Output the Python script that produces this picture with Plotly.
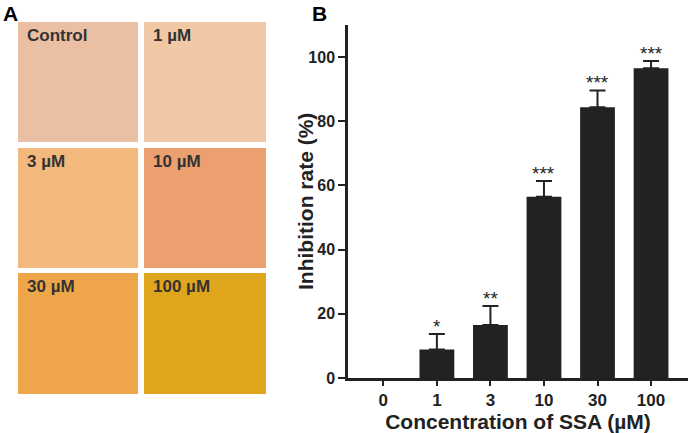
import plotly.graph_objects as go

# panel B data
conc = ['0', '1', '3', '10', '30', '100']
inhibition = [0, 8.9, 16.5, 56.5, 84.4, 96.5]
sem = [0, 4.8, 5.9, 4.9, 5.2, 2.3]
stars = ['', '*', '**', '***', '***', '***']

# panel A labels / tints of the CAM photos
photo_labels = ['Control', '1 µM', '3 µM', '10 µM', '30 µM', '100 µM']
photo_colors = ['#ebbfa3', '#f0c8a6', '#f2b87c', '#eca070', '#efa64a', '#dfa51c']

W, H = 692, 433
FONT = 'Liberation Sans, Arial, sans-serif'
INK = '#222222'

# the zero bar has nothing to draw (no bar, no error cap)
bar_y = [v if v > 0 else None for v in inhibition]
err = [e if e > 0 else None for e in sem]

fig = go.Figure()

fig.add_trace(go.Bar(
    x=conc, y=bar_y,
    marker=dict(color=INK, line=dict(width=0)),
    width=0.65,
    error_y=dict(type='data', symmetric=False, array=err,
                 arrayminus=[0] * len(sem), color=INK,
                 thickness=2, width=8),
))

for i, (v, e, s) in enumerate(zip(inhibition, sem, stars)):
    if s:
        fig.add_annotation(x=i, y=v + e, text=s, showarrow=False,
                           yanchor='bottom', yshift=-5,
                           font=dict(size=19, color=INK, family=FONT))

# photo grid for panel A (placeholders for the images)
cols = [(18, 138), (144, 266)]
rows = [(22, 142), (148, 268), (273, 394)]
shapes = []
for i, (lab, col) in enumerate(zip(photo_labels, photo_colors)):
    x0, x1 = cols[i % 2]
    y0, y1 = rows[i // 2]
    shapes.append(dict(type='rect', xref='paper', yref='paper',
                       x0=x0 / W, x1=x1 / W, y0=1 - y1 / H, y1=1 - y0 / H,
                       fillcolor=col, line=dict(width=0), layer='below'))
    fig.add_annotation(xref='paper', yref='paper', x=(x0 + 7) / W,
                       y=1 - (y0 + 2) / H, xanchor='left', yanchor='top',
                       text='<b>%s</b>' % lab, showarrow=False,
                       font=dict(size=17, color='#333333', family=FONT))

for lab, px in [('A', 1), ('B', 310)]:
    fig.add_annotation(xref='paper', yref='paper', x=px / W, y=1.0,
                       xanchor='left', yanchor='top', text='<b>%s</b>' % lab,
                       showarrow=False,
                       font=dict(size=21, color='black', family=FONT))

# y axis title as a rotated annotation so it sits close to the labels
fig.add_annotation(xref='paper', yref='paper', x=305 / W,
                   y=1 - 202 / H, textangle=-90, showarrow=False,
                   text='<b>Inhibition rate (%)</b>',
                   font=dict(size=21, color=INK, family=FONT))

fig.update_layout(
    width=W, height=H,
    margin=dict(l=0, r=0, t=0, b=0),
    paper_bgcolor='white', plot_bgcolor='white',
    showlegend=False,
    shapes=shapes,
    font=dict(family=FONT, color=INK),
    xaxis=dict(type='category', domain=[348 / W, 688 / W], range=[-0.66, 5.69],
               automargin=False,
               showline=True, linewidth=2.5, linecolor=INK,
               ticks='outside', ticklen=5, tickwidth=2, tickcolor=INK,
               tickfont=dict(size=17, family=FONT, weight='bold'),
               title=dict(text='<b>Concentration of SSA (µM)</b>',
                          font=dict(size=21), standoff=2),
               showgrid=False, zeroline=False),
    yaxis=dict(domain=[1 - 378 / H, 1 - 25 / H], range=[0, 110],
               automargin=False,
               tickvals=[0, 20, 40, 60, 80, 100],
               showline=True, linewidth=2.5, linecolor=INK,
               ticks='outside', ticklen=7, tickwidth=2, tickcolor=INK,
               tickfont=dict(size=16, family=FONT, weight='bold'),
               showgrid=False, zeroline=False),
)

fig.write_html('out.html', config={'displayModeBar': False},
               post_script="document.body.style.margin='0';")
